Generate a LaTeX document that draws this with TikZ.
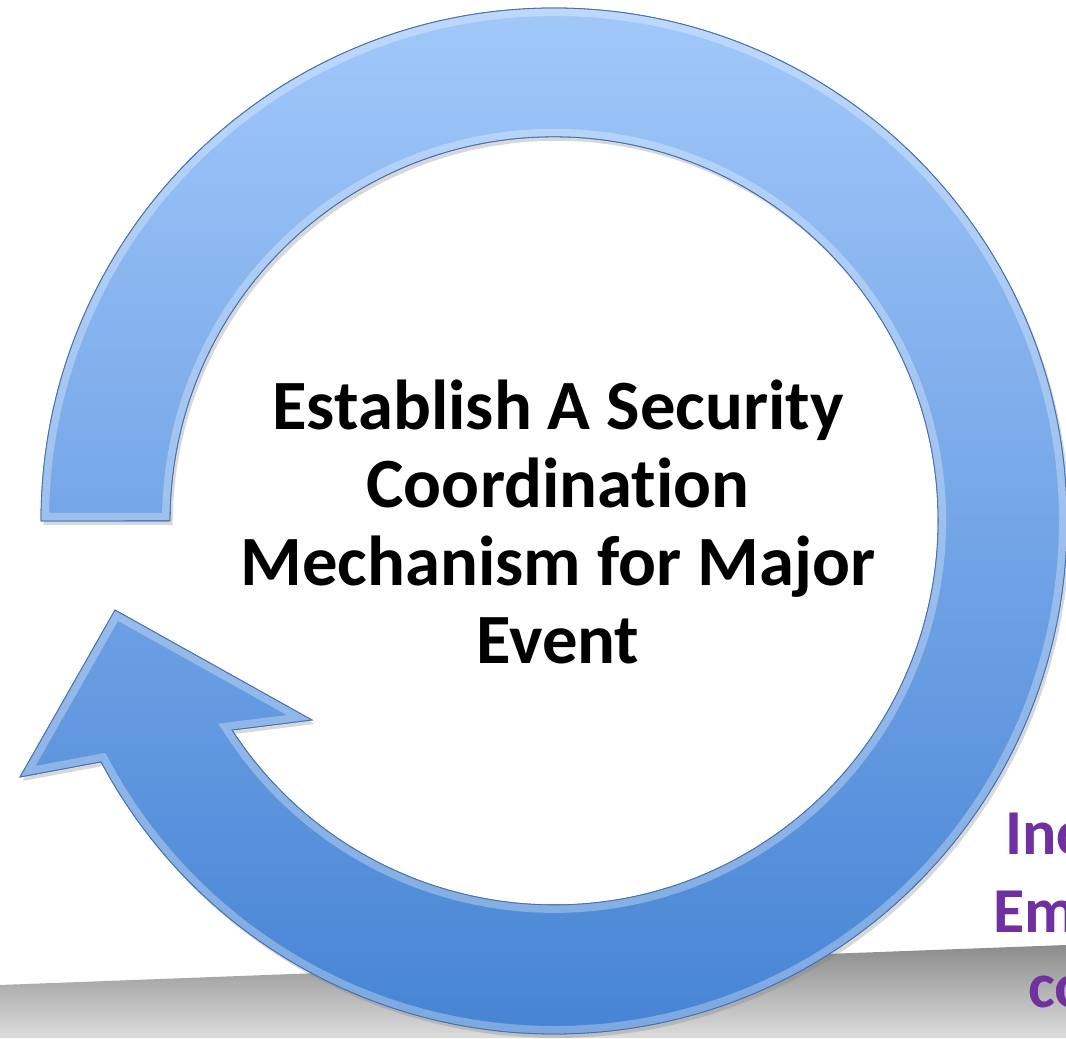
\documentclass[tikz,border=0pt]{standalone}
\usepackage{fontspec}
\setmainfont{Carlito}[Ligatures=NoCommon]
\usetikzlibrary{shadows}
\definecolor{ringtop}{RGB}{162,200,250}
\definecolor{ringbot}{RGB}{70,132,212}
\definecolor{ringedge}{RGB}{66,112,180}
\definecolor{floortop}{RGB}{140,140,140}
\definecolor{floorbot}{RGB}{220,220,220}
\definecolor{eventpurple}{RGB}{112,48,160}
\newcommand\ringpath{(41,517) arc[start angle=180,end angle=-152,radius=513]
  -- (20,261) -- (115,428) -- (312,318) -- (232,308)
  arc[start angle=-147,end angle=180,radius=384] -- cycle}
\tikzset{
  ringfill/.style={top color=ringtop,bottom color=ringbot,draw=ringedge,line width=0.6pt},
  goaltext/.style={font=\fontsize{53}{58.5}\selectfont\bfseries,align=center},
  sidetext/.style={font=\fontsize{48}{57}\selectfont\bfseries,text=eventpurple,anchor=base west,inner sep=0pt}
}
\begin{document}
\begin{tikzpicture}[x=0.75pt,y=0.75pt]
\useasboundingbox[fill=white] (0,0) rectangle (1066,1038);
\path[top color=floortop,bottom color=floorbot] (0,53) -- (1066,93) -- (1066,0) -- (0,0) -- cycle;
\path[ringfill,drop shadow={opacity=0.3,shadow xshift=2pt,shadow yshift=-3pt}] \ringpath;
\begin{scope}
\clip \ringpath;
\draw[white,opacity=0.3,line width=12pt] \ringpath;
\end{scope}
\path[draw=ringedge,line width=0.6pt] \ringpath;
\node[goaltext] (goal) at (558,516) {Establish A Security\\Coordination\\Mechanism for Major\\Event};
\node[sidetext] (inc) at (1005,183) {Inc};
\node[sidetext] (em) at (993,106) {Em};
\node[sidetext] (co) at (1028,31) {co};
\end{tikzpicture}
\end{document}
